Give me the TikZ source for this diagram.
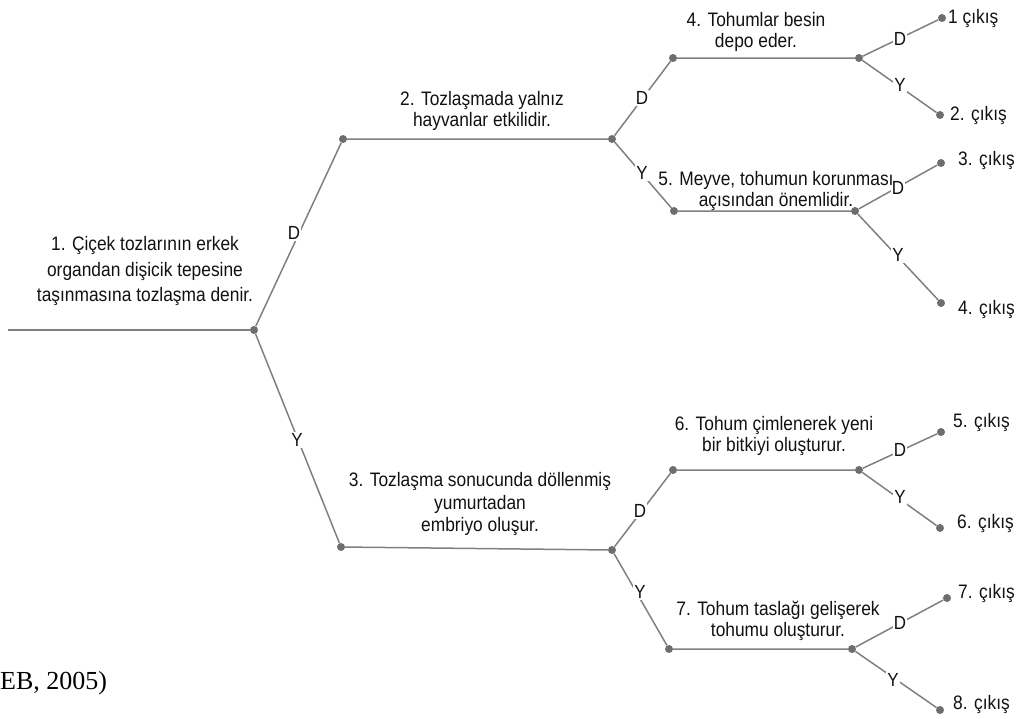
\documentclass[tikz,border=0pt]{standalone}
\usepackage{fontspec}
\setmainfont{Liberation Sans}[FakeStretch=0.89]
\newfontfamily\citefont{Liberation Serif}
\definecolor{branch}{HTML}{808080}
\definecolor{knot}{HTML}{6E6E6E}
\definecolor{ink}{HTML}{111111}
\tikzset{
  branchline/.style={draw=branch, line width=1.5pt},
  knotdot/.style={circle, fill=knot, inner sep=0pt, minimum size=8pt},
  answer/.style={fill=white, inner sep=1pt, text=ink, font=\fontsize{19}{20}\selectfont},
  question/.style={align=center, text=ink, inner sep=0pt, font=\fontsize{19.5}{21.5}\selectfont},
  exitlabel/.style={anchor=west, text=ink, inner sep=0pt, font=\fontsize{19.5}{20}\selectfont},
}
\begin{document}
\begin{tikzpicture}[x=1pt, y=-1pt]
\useasboundingbox (0,0) rectangle (1019,718);

% branching points of the key
\coordinate (start) at (8,330);
\node[knotdot] (n1) at (254,330) {};
\node[knotdot] (n2a) at (343,139) {};
\node[knotdot] (n2b) at (612,139) {};
\node[knotdot] (n3a) at (341,547) {};
\node[knotdot] (n3b) at (612,550) {};
\node[knotdot] (n4a) at (673,58) {};
\node[knotdot] (n4b) at (859,58) {};
\node[knotdot] (n5a) at (674,211) {};
\node[knotdot] (n5b) at (855,211) {};
\node[knotdot] (n6a) at (673,470) {};
\node[knotdot] (n6b) at (859,470) {};
\node[knotdot] (n7a) at (669,649) {};
\node[knotdot] (n7b) at (852,649) {};

% end points
\node[knotdot] (e1) at (942,18) {};
\node[knotdot] (e2) at (940,115) {};
\node[knotdot] (e3) at (941,163) {};
\node[knotdot] (e4) at (941,303) {};
\node[knotdot] (e5) at (941,432) {};
\node[knotdot] (e6) at (940,528) {};
\node[knotdot] (e7) at (947,598) {};
\node[knotdot] (e8) at (940,710) {};

% connecting lines
\draw[branchline] (start) -- (n1);
\draw[branchline] (n1) -- (n2a) -- (n2b);
\draw[branchline] (n1) -- (n3a) -- (n3b);
\draw[branchline] (n2b) -- (n4a) -- (n4b);
\draw[branchline] (n2b) -- (n5a) -- (n5b);
\draw[branchline] (n3b) -- (n6a) -- (n6b);
\draw[branchline] (n3b) -- (n7a) -- (n7b);
\draw[branchline] (n4b) -- (e1);
\draw[branchline] (n4b) -- (e2);
\draw[branchline] (n5b) -- (e3);
\draw[branchline] (n5b) -- (e4);
\draw[branchline] (n6b) -- (e5);
\draw[branchline] (n6b) -- (e6);
\draw[branchline] (n7b) -- (e7);
\draw[branchline] (n7b) -- (e8);

% D / Y answers on the branches
\node[answer] (a1d) at (294,233) {D};
\node[answer] (a1y) at (297,440) {Y};
\node[answer] (a2d) at (642,98) {D};
\node[answer] (a2y) at (642,173) {Y};
\node[answer] (a3d) at (640,511) {D};
\node[answer] (a3y) at (640,592) {Y};
\node[answer] (a4d) at (900,39) {D};
\node[answer] (a4y) at (900,85) {Y};
\node[answer] (a5d) at (898,188) {D};
\node[answer] (a5y) at (898,255) {Y};
\node[answer] (a6d) at (900,450) {D};
\node[answer] (a6y) at (900,497) {Y};
\node[answer] (a7d) at (900,623) {D};
\node[answer] (a7y) at (893,680) {Y};

% statements
\node[question, font=\fontsize{19.5}{25.5}\selectfont] (q1) at (145,271) {1. Çiçek tozlarının erkek\\organdan dişicik tepesine\\taşınmasına tozlaşma denir.};
\node[question] (q2) at (482,111) {2. Tozlaşmada yalnız\\hayvanlar etkilidir.};
\node[question, font=\fontsize{19.5}{22.5}\selectfont] (q3) at (480,504) {3. Tozlaşma sonucunda döllenmiş\\yumurtadan\\embriyo oluşur.};
\node[question] (q4) at (756,32) {4. Tohumlar besin\\depo eder.};
\node[question] (q5) at (776,191) {5. Meyve, tohumun korunması\\açısından önemlidir.};
\node[question] (q6) at (774,436) {6. Tohum çimlenerek yeni\\bir bitkiyi oluşturur.};
\node[question] (q7) at (778,621) {7. Tohum taslağı gelişerek\\tohumu oluşturur.};

% outcomes
\node[exitlabel] (x1) at (948,18) {1 çıkış};
\node[exitlabel] (x2) at (950,115) {2. çıkış};
\node[exitlabel] (x3) at (958,160) {3. çıkış};
\node[exitlabel] (x4) at (958,309) {4. çıkış};
\node[exitlabel] (x5) at (953,422) {5. çıkış};
\node[exitlabel] (x6) at (957,523) {6. çıkış};
\node[exitlabel] (x7) at (958,593) {7. çıkış};
\node[exitlabel] (x8) at (953,704) {8. çıkış};

% source
\node[anchor=west, inner sep=0pt, font=\citefont\fontsize{26}{28}\selectfont] (src) at (0,683) {EB, 2005)};
\end{tikzpicture}
\end{document}
